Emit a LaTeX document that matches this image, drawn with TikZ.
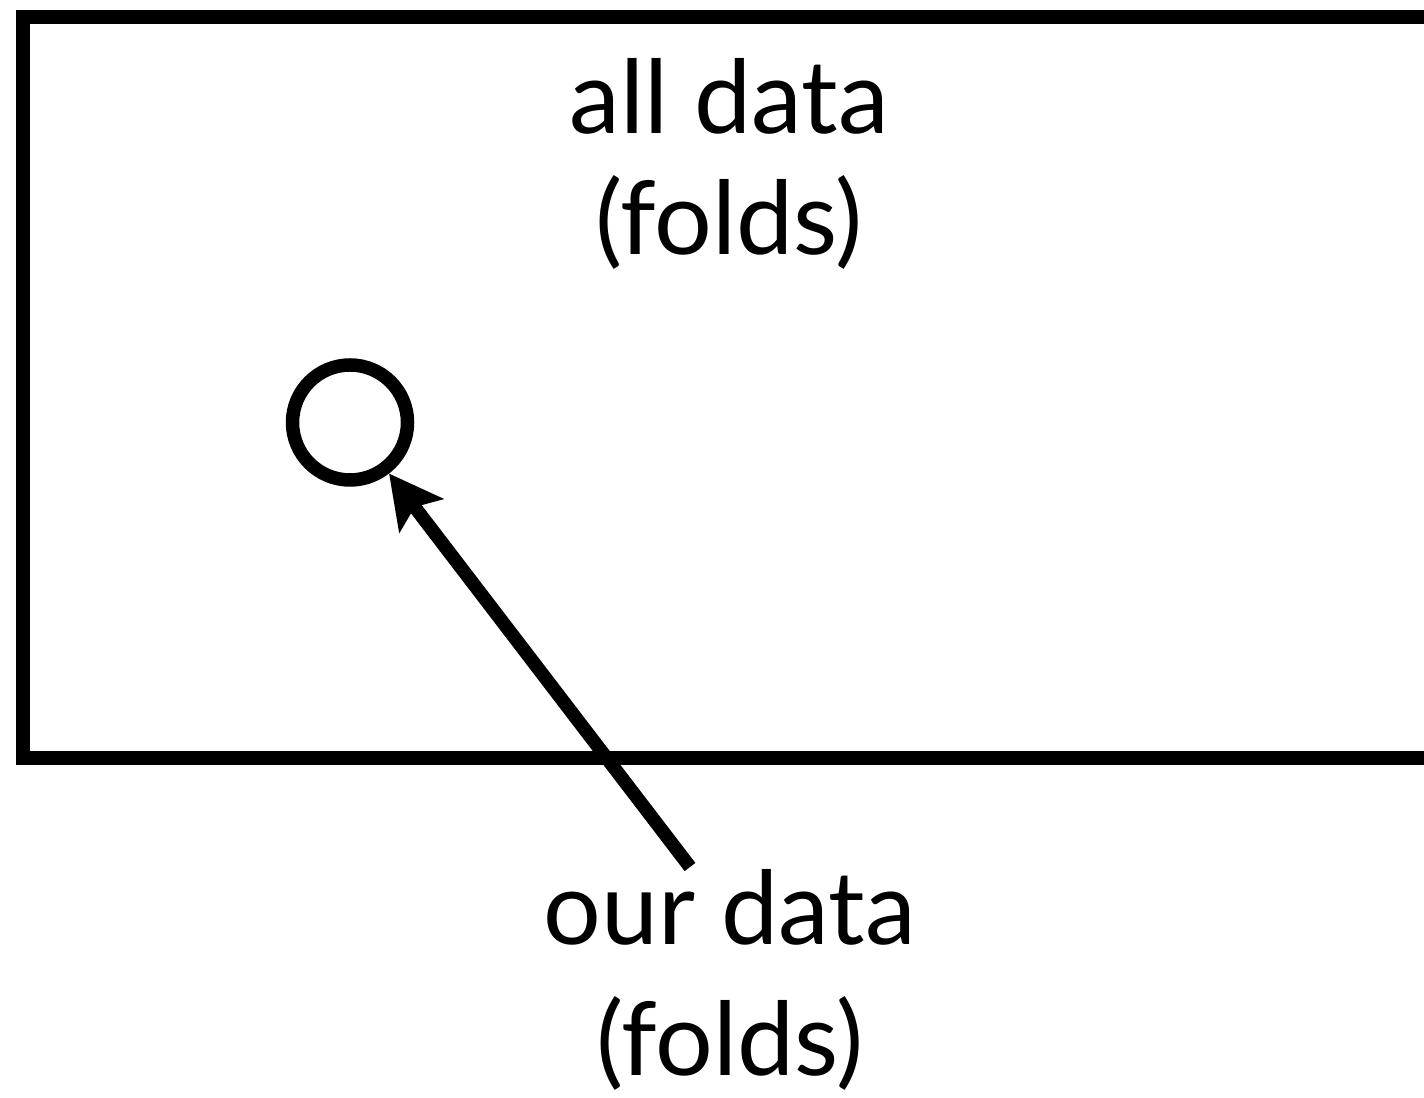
\documentclass[tikz,border=0pt]{standalone}
\usepackage{fontspec}
\setmainfont{Lato}
\usetikzlibrary{arrows.meta}
\tikzset{
  thickline/.style={line width=3.84pt, draw=black},
  label/.style={align=center, inner sep=0pt},
}
\begin{document}
\begin{tikzpicture}
\useasboundingbox (0,0) rectangle (14.24,10.97);
\clip (0,0) rectangle (14.24,10.97);
\fill[white] (0,0) rectangle (14.24,10.97);
% outer box, runs off the right edge
\draw[thickline] (0.23,3.39) rectangle (15.00,10.80);
\node[label, anchor=base, font=\fontsize{29}{34.7}\selectfont] (alldata) at (7.29,8.42) {all data\\(folds)};
\node[circle, thickline, minimum size=1.15cm, inner sep=0pt] (ours) at (3.50,6.745) {};
\node[label, anchor=base, font=\fontsize{29}{37}\selectfont] (ourdata) at (7.30,0.22) {our data\\(folds)};
\coordinate (tail) at (6.90,2.30);
\draw[thickline, -{Stealth[length=15pt, width=15.5pt, inset=3pt]}] (tail) -- (ours);
\end{tikzpicture}
\end{document}
